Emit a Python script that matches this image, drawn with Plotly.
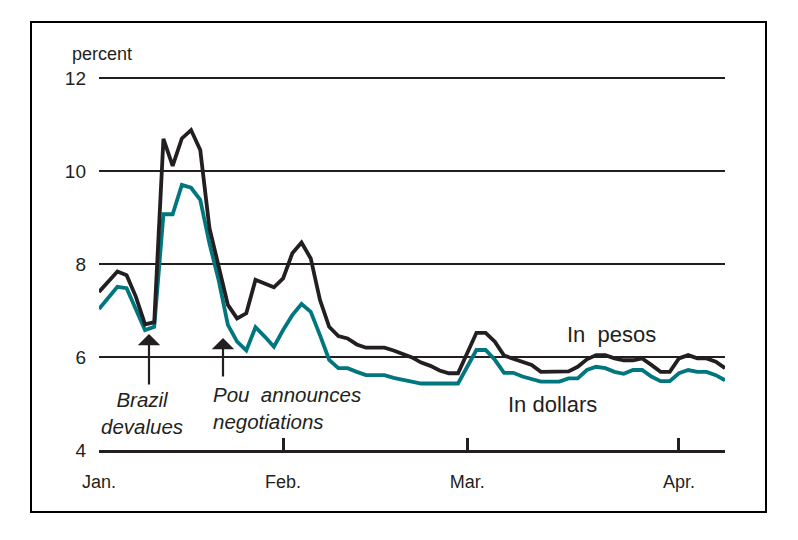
import plotly.graph_objects as go

# ---- data (business-day index from Jan. start) ----
pesos = [7.40, 7.62, 7.84, 7.76, 7.30, 6.70, 6.75, 10.69, 10.11, 10.70,
         10.88, 10.45, 8.77, 7.95, 7.12, 6.83, 6.94, 7.66, 7.58, 7.50,
         7.69, 8.23, 8.46, 8.12, 7.23, 6.65, 6.45, 6.40, 6.27, 6.20,
         6.20, 6.20, 6.14, 6.06, 5.99, 5.88, 5.81, 5.71, 5.65, 5.65,
         6.08, 6.52, 6.52, 6.33, 6.03, 5.96, 5.90, 5.83, 5.68, 5.68,
         5.68, 5.69, 5.79, 5.95, 6.04, 6.04, 5.97, 5.93, 5.93, 5.97,
         5.83, 5.68, 5.68, 5.97, 6.04, 5.97, 5.97, 5.90, 5.76]
dollars = [7.03, 7.27, 7.51, 7.48, 7.01, 6.58, 6.65, 9.07, 9.07, 9.70,
           9.64, 9.38, 8.44, 7.65, 6.69, 6.33, 6.14, 6.64, 6.44, 6.22,
           6.58, 6.90, 7.14, 6.97, 6.47, 5.94, 5.76, 5.76, 5.68, 5.61,
           5.61, 5.61, 5.55, 5.51, 5.46, 5.43, 5.43, 5.43, 5.43, 5.43,
           5.79, 6.15, 6.15, 5.94, 5.66, 5.66, 5.58, 5.52, 5.47, 5.47,
           5.47, 5.54, 5.54, 5.72, 5.79, 5.76, 5.68, 5.64, 5.72, 5.72,
           5.58, 5.48, 5.48, 5.65, 5.72, 5.68, 5.68, 5.61, 5.50]
days = list(range(len(pesos)))
month_ticks = [0, 20, 40, 63]
month_labels = ["Jan.", "Feb.", "Mar.", "Apr."]
y_ticks = [4, 6, 8, 10, 12]

# ---- layout geometry (window pixels; page body adds an 8px offset) ----
W, H = 798, 540
OFF = 8
L, R, T, B = 99 - OFF, 725 - OFF, 78 - OFF, 450 - OFF


def px(x):
    return (x - OFF - L) / (R - L)


def py(y):
    return (B - (y - OFF)) / (B - T)


FONT = "Liberation Sans, Arial, sans-serif"
BLACK = "#231f20"
TEAL = "#00777f"

fig = go.Figure()
fig.add_trace(go.Scatter(x=days, y=dollars, mode="lines",
                         line=dict(color=TEAL, width=3.8), showlegend=False))
fig.add_trace(go.Scatter(x=days, y=pesos, mode="lines",
                         line=dict(color=BLACK, width=3.8), showlegend=False))

shapes = [
    # outer frame
    dict(type="rect", xref="paper", yref="paper",
         x0=px(31), x1=px(766), y0=py(512), y1=py(22),
         line=dict(color="black", width=2), fillcolor="rgba(0,0,0,0)"),
    # top gridline (at the edge of the range, drawn unclipped)
    dict(type="line", xref="paper", yref="paper", x0=0, x1=1,
         y0=1, y1=1, layer="below",
         line=dict(color=BLACK, width=2)),
    # gaps in the 6% gridline around the arrows
    dict(type="rect", xref="paper", yref="paper", layer="between",
         x0=px(142), x1=px(157), y0=py(360), y1=py(352),
         line=dict(width=0), fillcolor="white"),
    dict(type="rect", xref="paper", yref="paper", layer="between",
         x0=px(216), x1=px(231), y0=py(360), y1=py(352),
         line=dict(width=0), fillcolor="white"),
]

annotations = [
    dict(xref="paper", yref="paper", x=px(70), y=py(54), xanchor="left",
         yanchor="middle", text="percent", showarrow=False,
         font=dict(family=FONT, size=18, color=BLACK)),
    # arrows
    dict(xref="paper", yref="paper", x=px(149), y=py(334), ax=0, ay=52,
         text="", showarrow=True, arrowhead=1, arrowsize=1.7, arrowwidth=2.2,
         arrowcolor=BLACK, standoff=0, startstandoff=0),
    dict(xref="paper", yref="paper", x=px(223), y=py(338), ax=0, ay=40,
         text="", showarrow=True, arrowhead=1, arrowsize=1.7, arrowwidth=2.2,
         arrowcolor=BLACK, standoff=0, startstandoff=0),
    dict(xref="paper", yref="paper", x=px(142), y=py(413), xanchor="center",
         yanchor="middle", text="<i>Brazil<br>devalues</i>", showarrow=False,
         align="center", font=dict(family=FONT, size=20.5, color=BLACK)),
    dict(xref="paper", yref="paper", x=px(211), y=py(408), xanchor="left",
         yanchor="middle", text="<i>Pou  announces<br>negotiations</i>",
         showarrow=False, align="left",
         font=dict(family=FONT, size=20.5, color=BLACK)),
    dict(xref="paper", yref="paper", x=px(611), y=py(334), xanchor="center",
         yanchor="middle", text="In  pesos", showarrow=False,
         font=dict(family=FONT, size=22, color=BLACK)),
    dict(xref="paper", yref="paper", x=px(552), y=py(404), xanchor="center",
         yanchor="middle", text="In dollars", showarrow=False,
         font=dict(family=FONT, size=22, color=BLACK)),
]

fig.update_layout(
    width=W, height=H, autosize=False,
    margin=dict(l=L, r=W - R, t=T, b=H - B, pad=0),
    paper_bgcolor="white", plot_bgcolor="white",
    font=dict(family=FONT, size=18, color=BLACK),
    shapes=shapes, annotations=annotations,
    xaxis=dict(range=[0, len(pesos) - 1], tickvals=month_ticks,
               ticktext=month_labels, ticks="inside", ticklen=12,
               tickwidth=3, tickcolor=BLACK, showline=True, linewidth=3,
               linecolor=BLACK, showgrid=False, zeroline=False,
               ticklabelstandoff=13, tickfont=dict(size=18)),
    yaxis=dict(range=[4, 12], tickvals=y_ticks, ticks="", showline=False,
               showgrid=True, gridcolor=BLACK, gridwidth=2, zeroline=False,
               ticklabelstandoff=12, tickfont=dict(size=19)),
)

fig.write_html("out.html")
